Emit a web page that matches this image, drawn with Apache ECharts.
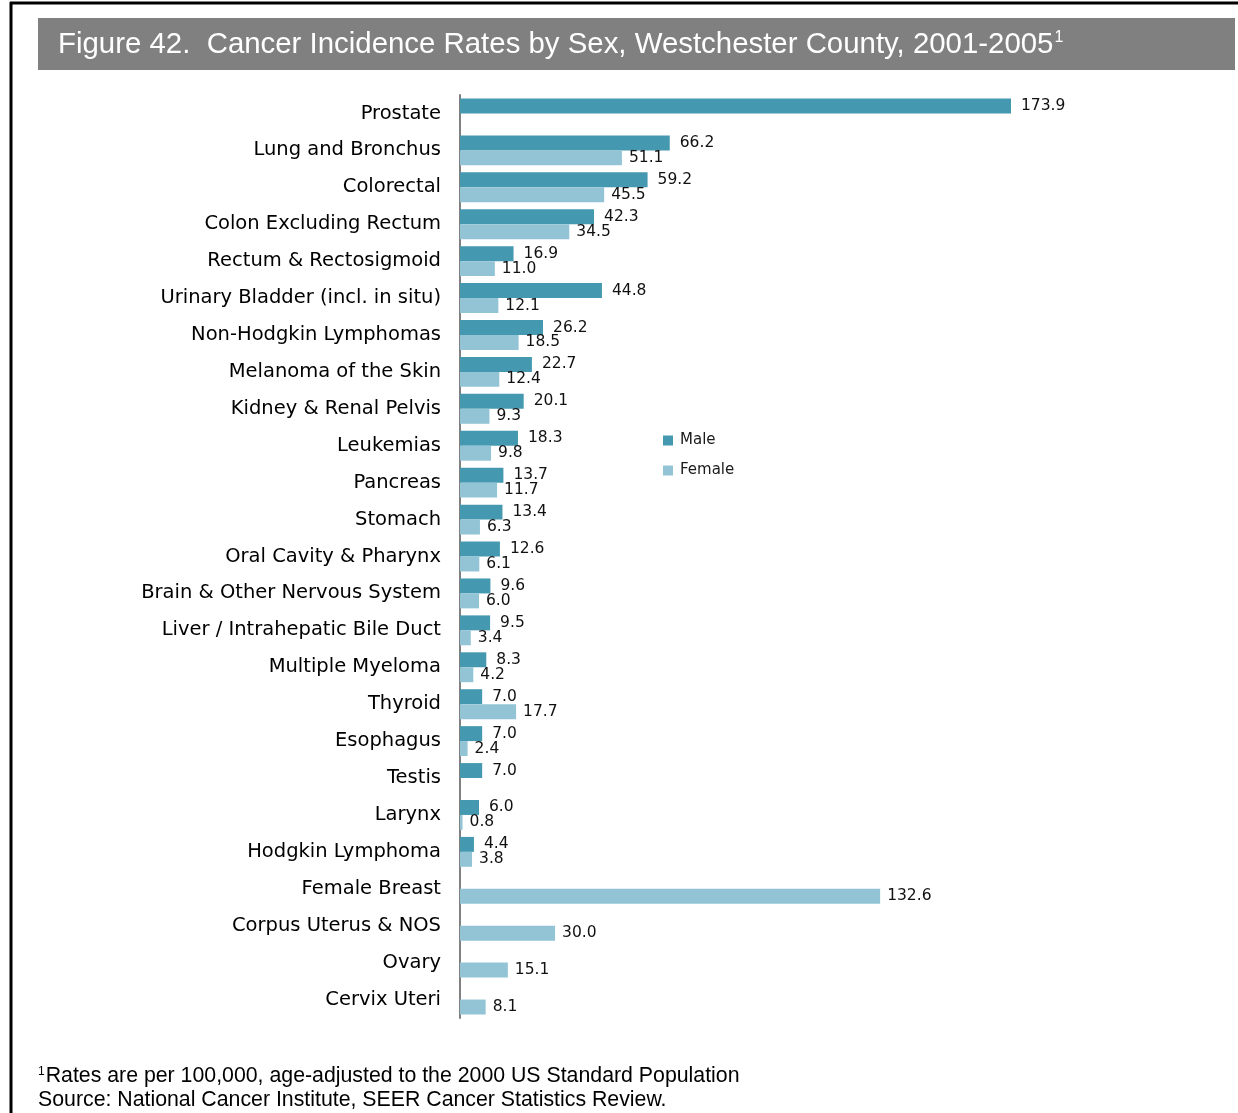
<!DOCTYPE html>
<html>
<head>
<meta charset="utf-8">
<script src="https://cdn.jsdelivr.net/npm/echarts@6/dist/echarts.min.js"></script>
<style>
  html, body { margin: 0; padding: 0; background: #fff; }
  #main { width: 1238px; height: 1113px; }
</style>
</head>
<body>
<div id="main"></div>
<script>
var categories = ['Prostate', 'Lung and Bronchus', 'Colorectal', 'Colon Excluding Rectum',
  'Rectum & Rectosigmoid', 'Urinary Bladder (incl. in situ)', 'Non-Hodgkin Lymphomas',
  'Melanoma of the Skin', 'Kidney & Renal Pelvis', 'Leukemias', 'Pancreas', 'Stomach',
  'Oral Cavity & Pharynx', 'Brain & Other Nervous System', 'Liver / Intrahepatic Bile Duct',
  'Multiple Myeloma', 'Thyroid', 'Esophagus', 'Testis', 'Larynx', 'Hodgkin Lymphoma',
  'Female Breast', 'Corpus Uterus & NOS', 'Ovary', 'Cervix Uteri'];
var male = [173.9, 66.2, 59.2, 42.3, 16.9, 44.8, 26.2, 22.7, 20.1, 18.3, 13.7, 13.4,
  12.6, 9.6, 9.5, 8.3, 7.0, 7.0, 7.0, 6.0, 4.4, null, null, null, null];
var female = [null, 51.1, 45.5, 34.5, 11.0, 12.1, 18.5, 12.4, 9.3, 9.8, 11.7, 6.3,
  6.1, 6.0, 3.4, 4.2, 17.7, 2.4, null, 0.8, 3.8, 132.6, 30.0, 15.1, 8.1];

var maleColor = '#4499b0';
var femaleColor = '#93c4d6';

var myChart = echarts.init(document.getElementById('main'));
myChart.setOption({
  animation: false,
  backgroundColor: '#fff',
  graphic: [
    { type: 'line', shape: { x1: 10, y1: 3, x2: 1238, y2: 3 }, style: { stroke: '#000', lineWidth: 3 } },
    { type: 'line', shape: { x1: 11, y1: 2, x2: 11, y2: 1113 }, style: { stroke: '#000', lineWidth: 3 } },
    { type: 'rect', shape: { x: 38, y: 18, width: 1197, height: 52 }, style: { fill: '#808080' } },
    {
      type: 'text', left: 58, top: 30,
      style: {
        text: '{t|Figure 42.  Cancer Incidence Rates by Sex, Westchester County, 2001-2005}{s|1}',
        rich: {
          t: { fontFamily: 'Liberation Sans', fontSize: 29.4, fill: '#fff' },
          s: { fontFamily: 'Liberation Sans', fontSize: 16, fill: '#fff', verticalAlign: 'top', padding: [0, 0, 12, 1] }
        }
      }
    },
    {
      type: 'text', left: 38, top: 1066,
      style: {
        text: '{s|1}{t|Rates are per 100,000, age-adjusted to the 2000 US Standard Population}',
        rich: {
          t: { fontFamily: 'Liberation Sans', fontSize: 21.3, fill: '#000' },
          s: { fontFamily: 'Liberation Sans', fontSize: 12, fill: '#000', verticalAlign: 'top', padding: [0, 1, 8, 0] }
        }
      }
    },
    {
      type: 'text', left: 38, top: 1090,
      style: {
        text: 'Source: National Cancer Institute, SEER Cancer Statistics Review.',
        fontFamily: 'Liberation Sans', fontSize: 21.3, fill: '#000'
      }
    }
  ],
  legend: {
    data: ['Male', 'Female'],
    orient: 'vertical',
    left: 658,
    top: 428,
    itemWidth: 10,
    itemHeight: 10,
    itemGap: 15,
    icon: 'rect',
    textStyle: { fontFamily: 'DejaVu Sans', fontSize: 15, color: '#1a1a1a', padding: [0, 0, 0, 2] }
  },
  grid: { left: 460, top: 95, width: 633.7, height: 923 },
  xAxis: {
    type: 'value', min: 0, max: 200, show: false,
    splitLine: { show: false }
  },
  yAxis: {
    type: 'category',
    data: categories,
    inverse: true,
    axisLine: { show: true, lineStyle: { color: '#808080', width: 2 } },
    axisTick: { show: false },
    axisLabel: { margin: 19, fontFamily: 'DejaVu Sans', fontSize: 19.5, color: '#000', padding: [4, 0, 0, 0] }
  },
  series: [
    {
      name: 'Male', type: 'bar', data: male,
      barGap: '0%', barCategoryGap: '19%',
      itemStyle: { color: maleColor },
      label: {
        show: true, position: 'right', distance: 10,
        fontFamily: 'DejaVu Sans', fontSize: 15.5, color: '#111',
        formatter: function (p) { return p.value == null ? '' : p.value.toFixed(1); }
      }
    },
    {
      name: 'Female', type: 'bar', data: female,
      barGap: '0%', barCategoryGap: '19%',
      itemStyle: { color: femaleColor },
      label: {
        show: true, position: 'right', distance: 7,
        fontFamily: 'DejaVu Sans', fontSize: 15.5, color: '#111',
        formatter: function (p) { return p.value == null ? '' : p.value.toFixed(1); }
      }
    }
  ]
});
</script>
</body>
</html>
